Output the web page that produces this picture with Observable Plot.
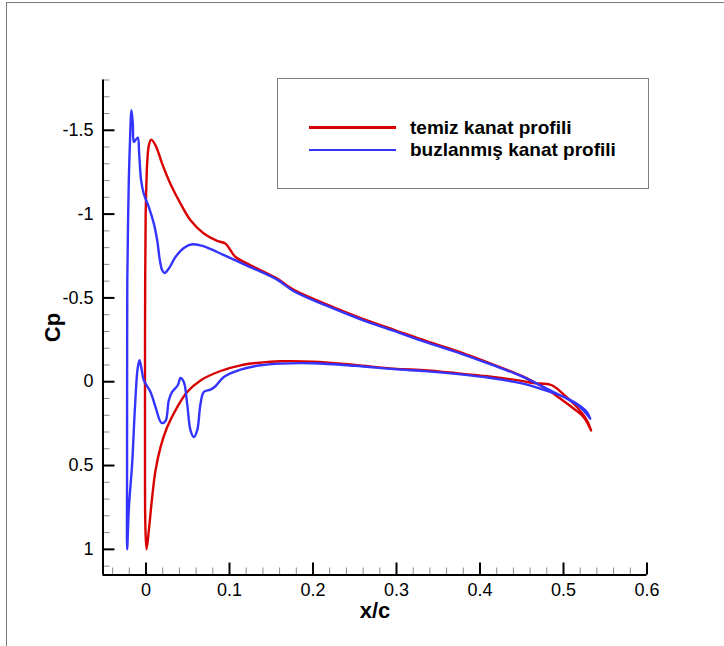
<!DOCTYPE html>
<html>
<head>
<meta charset="utf-8">
<script src="https://cdn.jsdelivr.net/npm/d3@7"></script>
<script src="https://cdn.jsdelivr.net/npm/@observablehq/plot@0.6"></script>
<style>
  html, body { margin: 0; padding: 0; background: #fff; overflow: hidden; }
  #wrap { position: relative; width: 724px; height: 646px; font-family: "Liberation Sans", Arial, Helvetica, sans-serif; }
  #outer { position: absolute; left: 6px; top: 2px; width: 900px; height: 900px; border-left: 1.5px solid #7a7a7a; border-top: 1.5px solid #7a7a7a; pointer-events: none; }
  #legend { position: absolute; left: 277px; top: 78px; width: 370px; height: 109px; border: 1.2px solid #808080; background: #fff; }
  .sw { position: absolute; left: 31px; width: 87px; height: 2.6px; }
  .lt { position: absolute; left: 132px; font-size: 19px; font-weight: bold; line-height: 19px; white-space: nowrap; color: #000; }
</style>
</head>
<body>
<div id="wrap"></div>
<script>
// ---- data ----
const seriesNames = ["temiz kanat profili", "buzlanmış kanat profili"];
const seriesColors = ["#d80000", "#3434ff"];

// clean airfoil (red) — from stagnation point to trailing edge
const cleanUpperX  = [0.0006, -0.0008, -0.0012, -0.0012, -0.0010, -0.0004, 0.0006, 0.0016, 0.0034, 0.0062, 0.0114, 0.0194, 0.0293, 0.0413, 0.0533, 0.0692, 0.0852, 0.0952, 0.1012, 0.1072, 0.1251, 0.157, 0.177, 0.217, 0.257, 0.297, 0.337, 0.377, 0.413, 0.45, 0.464, 0.48, 0.496, 0.512, 0.524, 0.533];
const cleanUpperCp = [1.0, 0.85, 0.5, 0.0, -0.6, -1.0, -1.2, -1.32, -1.41, -1.444, -1.41, -1.30, -1.18, -1.063, -0.963, -0.884, -0.84, -0.824, -0.784, -0.744, -0.695, -0.615, -0.548, -0.46, -0.38, -0.31, -0.24, -0.175, -0.108, -0.035, 0.0, 0.045, 0.10, 0.16, 0.21, 0.29];
const cleanLowerX  = [0.0006, 0.0034, 0.0074, 0.0114, 0.0174, 0.0254, 0.0374, 0.0493, 0.0653, 0.0892, 0.1132, 0.137, 0.161, 0.2, 0.25, 0.297, 0.337, 0.377, 0.413, 0.45, 0.464, 0.486, 0.500, 0.516, 0.528, 0.533];
const cleanLowerCp = [1.0, 0.887, 0.688, 0.529, 0.39, 0.27, 0.151, 0.061, -0.008, -0.064, -0.098, -0.114, -0.122, -0.12, -0.10, -0.078, -0.068, -0.048, -0.03, -0.005, 0.008, 0.021, 0.075, 0.151, 0.23, 0.29];

// iced airfoil (blue) — from stagnation point to trailing edge
const icedUpperX  = [-0.0226, -0.0227, -0.0226, -0.0224, -0.0215, -0.0206, -0.0194, -0.0174, -0.0158, -0.0146, -0.0122, -0.0098, -0.0082, -0.0058, -0.0026, 0.0034, 0.0094, 0.0134, 0.0166, 0.0194, 0.0222, 0.0273, 0.0353, 0.0453, 0.0553, 0.0692, 0.0852, 0.1052, 0.129, 0.157, 0.177, 0.217, 0.257, 0.297, 0.337, 0.377, 0.413, 0.45, 0.484, 0.504, 0.520, 0.532];
const icedUpperCp = [1.0, 0.6, 0.0, -0.6, -0.95, -1.20, -1.40, -1.62, -1.54, -1.43, -1.444, -1.456, -1.36, -1.20, -1.12, -1.042, -0.943, -0.844, -0.724, -0.665, -0.649, -0.675, -0.744, -0.798, -0.820, -0.808, -0.774, -0.728, -0.675, -0.609, -0.540, -0.452, -0.372, -0.303, -0.233, -0.168, -0.103, -0.032, 0.051, 0.101, 0.151, 0.22];
const icedLowerX  = [-0.0226, -0.0205, -0.0166, -0.0134, -0.0100, -0.0078, -0.0055, -0.0026, 0.0054, 0.0114, 0.0186, 0.0234, 0.0273, 0.0313, 0.0381, 0.0413, 0.0453, 0.0493, 0.0533, 0.0573, 0.0613, 0.0653, 0.0692, 0.0772, 0.0832, 0.0932, 0.1132, 0.137, 0.161, 0.2, 0.25, 0.297, 0.337, 0.377, 0.413, 0.45, 0.472, 0.496, 0.516, 0.528, 0.532];
const icedLowerCp = [1.0, 0.75, 0.49, 0.17, -0.08, -0.128, -0.08, -0.008, 0.061, 0.151, 0.246, 0.234, 0.111, 0.061, 0.021, -0.022, 0.002, 0.131, 0.29, 0.33, 0.29, 0.131, 0.061, 0.047, 0.027, -0.028, -0.072, -0.098, -0.108, -0.11, -0.095, -0.075, -0.062, -0.044, -0.022, 0.01, 0.041, 0.081, 0.131, 0.18, 0.22];

// axes
const xDomain = [-0.0515, 0.6];
const yDomain = [-1.8, 1.153];
const xMajor = [0, 0.1, 0.2, 0.3, 0.4, 0.5, 0.6];
const xMinor = [-0.04, -0.02, 0.02, 0.04, 0.06, 0.08, 0.12, 0.14, 0.16, 0.18, 0.22, 0.24, 0.26, 0.28, 0.32, 0.34, 0.36, 0.38, 0.42, 0.44, 0.46, 0.48, 0.52, 0.54, 0.56, 0.58];
const yMajor = [-1.5, -1, -0.5, 0, 0.5, 1];
const yMinor = [-1.8, -1.7, -1.6, -1.4, -1.3, -1.2, -1.1, -0.9, -0.8, -0.7, -0.6, -0.4, -0.3, -0.2, -0.1, 0.1, 0.2, 0.3, 0.4, 0.6, 0.7, 0.8, 0.9, 1.1];
const xTitle = "x/c";
const yTitle = "Cp";

// ---- build tables ----
function path(ux, ucp, lx, lcp) {
  const up = ux.map((x, i) => ({x, cp: ucp[i]})).reverse();
  const lo = lx.map((x, i) => ({x, cp: lcp[i]})).slice(1);
  return up.concat(lo);
}
const cleanPath = path(cleanUpperX, cleanUpperCp, cleanLowerX, cleanLowerCp);
const icedPath = path(icedUpperX, icedUpperCp, icedLowerX, icedLowerCp);

const W = 724, H = 646;
const mL = 102.5, mR = 77.5, mT = 79.5, mB = 71.5;
const plotW = W - mL - mR, plotH = H - mT - mB;
const majLen = 12, minLen = 7;
const fmt = d => String(d);
const FONT = '"Liberation Sans", Arial, Helvetica, sans-serif';

const chart = Plot.plot({
  width: W, height: H,
  marginLeft: mL, marginRight: mR, marginTop: mT, marginBottom: mB,
  x: {domain: xDomain},
  y: {domain: yDomain, reverse: true},
  style: {fontFamily: FONT, fontSize: "18px", background: "transparent", color: "#000"},
  marks: [
    Plot.tickX(xMinor, {x: d => d, insetTop: plotH - minLen, stroke: "#8c8c8c", strokeWidth: 1}),
    Plot.tickY(yMinor, {y: d => d, insetRight: plotW - minLen, stroke: "#8c8c8c", strokeWidth: 1}),
    Plot.tickX(xMajor, {x: d => d, insetTop: plotH - majLen, stroke: "#000", strokeWidth: 2}),
    Plot.tickY(yMajor, {y: d => d, insetRight: plotW - majLen, stroke: "#000", strokeWidth: 2}),
    Plot.ruleX([xDomain[0]], {stroke: "#000", strokeWidth: 2}),
    Plot.ruleY([yDomain[1]], {stroke: "#000", strokeWidth: 2}),
    Plot.axisX({ticks: xMajor, tickSize: 0, tickPadding: 8.5, tickFormat: fmt, label: null, fontSize: 18, fill: "#000"}),
    Plot.axisY({ticks: yMajor, tickSize: 0, tickPadding: 9.5, tickFormat: fmt, label: null, fontSize: 18, fill: "#000"}),
    Plot.text([xTitle], {text: d => d, frameAnchor: "bottom", lineAnchor: "middle", textAnchor: "middle", dy: 35.5, fontSize: 22, fontWeight: "bold", fill: "#000"}),
    Plot.text([yTitle], {text: d => d, frameAnchor: "left", lineAnchor: "middle", textAnchor: "middle", dx: -50.5, rotate: -90, fontSize: 22, fontWeight: "bold", fill: "#000"}),
    Plot.line(cleanPath, {x: "x", y: "cp", stroke: seriesColors[0], strokeWidth: 2.4, curve: "catmull-rom"}),
    Plot.line(icedPath, {x: "x", y: "cp", stroke: seriesColors[1], strokeWidth: 2.4, curve: "catmull-rom"})
  ]
});

const wrap = document.getElementById("wrap");
wrap.appendChild(chart);

const outer = document.createElement("div");
outer.id = "outer";
wrap.appendChild(outer);

const legend = document.createElement("div");
legend.id = "legend";
const swTops = [47, 69.7];
const txTops = [38.5, 60.5];
seriesNames.forEach((name, i) => {
  const sw = document.createElement("div");
  sw.className = "sw";
  sw.style.top = swTops[i] + "px";
  sw.style.background = seriesColors[i];
  legend.appendChild(sw);
  const t = document.createElement("div");
  t.className = "lt";
  t.style.top = txTops[i] + "px";
  t.textContent = name;
  legend.appendChild(t);
});
wrap.appendChild(legend);
</script>
</body>
</html>
